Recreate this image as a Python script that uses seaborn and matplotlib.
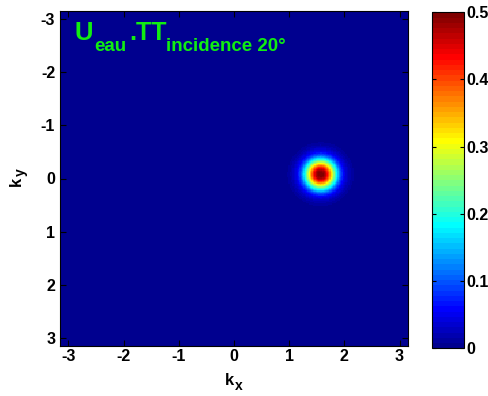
import numpy as np
import matplotlib
matplotlib.use("Agg")
import matplotlib.pyplot as plt
from matplotlib.colors import ListedColormap
import seaborn as sns

# ---- data ----
grid_n = 256
k_min, k_max = -np.pi, np.pi
x_ticks = [-3, -2, -1, 0, 1, 2, 3]
x_tick_labels = ["-3", "-2", "-1", "0", "1", "2", "3"]
y_ticks = [-3, -2, -1, 0, 1, 2, 3]
y_tick_labels = ["-3", "-2", "-1", "0", "1", "2", "3"]
cbar_ticks = [0, 0.1, 0.2, 0.3, 0.4, 0.5]
cbar_tick_labels = ["0", "0.1", "0.2", "0.3", "0.4", "0.5"]
v_min, v_max = 0.0, 0.5

# blob: centre and radial profile (radius in k units -> value)
blob_kx = 1.57
blob_ky = -0.08
profile_r = [0.0, 0.09, 0.145, 0.20, 0.27, 0.36, 0.43, 0.52, 0.65]
profile_v = [0.52, 0.47, 0.40, 0.315, 0.21, 0.10, 0.05, 0.02, 0.0]

title_main_1 = "U"
title_sub_1 = "eau"
title_main_2 = ".TT"
title_sub_2 = "incidence 20\u00b0"
x_label_main, x_label_sub = "k", "x"
y_label_main, y_label_sub = "k", "y"

# ---- MATLAB-like jet(64) colormap ----
def matlab_jet(n=64):
    m = n // 4
    u = np.concatenate([np.arange(1, m + 1) / m, np.ones(m - 1), np.arange(m, 0, -1) / m])
    g = int(np.ceil(m / 2)) - (1 if n % 4 == 1 else 0) + np.arange(1, len(u) + 1)
    r = g + m
    b = g - m
    g = g[g <= n]
    r = r[r <= n]
    b = b[b >= 1]
    J = np.zeros((n, 3))
    J[r - 1, 0] = u[:len(r)]
    J[g - 1, 1] = u[:len(g)]
    J[b - 1, 2] = u[-len(b):]
    return ListedColormap(J)

cmap = matlab_jet(64)

# ---- field ----
kx = np.linspace(k_min, k_max, grid_n)
ky = np.linspace(k_min, k_max, grid_n)
KX, KY = np.meshgrid(kx, ky)
R = np.sqrt((KX - blob_kx) ** 2 + (KY - blob_ky) ** 2)
field = np.interp(R, profile_r, profile_v)

# ---- figure ----
plt.rcParams["font.family"] = ["Liberation Sans", "DejaVu Sans"]
plt.rcParams["font.weight"] = "bold"

fig = plt.figure(figsize=(4.89, 3.96), dpi=100)
ax = fig.add_axes([60 / 489, 50 / 396, 348 / 489, 335 / 396])
cax = fig.add_axes([432 / 489, 47.7 / 396, 32 / 489, 336 / 396])

sns.heatmap(field, cmap=cmap, vmin=v_min, vmax=v_max, ax=ax, cbar_ax=cax,
            xticklabels=False, yticklabels=False)

for s in ax.spines.values():
    s.set_visible(True)
    s.set_color("black")
    s.set_linewidth(0.8)

idx = np.arange(grid_n) + 0.5
ax.set_xticks(np.interp(x_ticks, kx, idx))
ax.set_xticklabels(x_tick_labels, fontsize=11.5, fontweight="bold")
ax.set_yticks(np.interp(y_ticks, ky, idx))
ax.set_yticklabels(y_tick_labels, fontsize=11.5, fontweight="bold", rotation=0)
ax.tick_params(axis="x", direction="in", top=True, bottom=True, length=4, width=0.8, pad=2)
ax.tick_params(axis="y", direction="in", left=True, right=True, length=4, width=0.8, pad=3.5)

# axis labels: k with a lowered subscript, as in the original
kx_main = ax.text(0.5, -0.115, x_label_main, transform=ax.transAxes, fontsize=12,
                  fontweight="bold", ha="right", va="baseline")
ax.annotate(x_label_sub, xy=(1, 0), xycoords=kx_main, xytext=(1, -5),
            textcoords="offset pixels", fontsize=10, fontweight="bold",
            ha="left", va="bottom")

ky_anchor = (-0.112, 0.504)
ax.text(ky_anchor[0], ky_anchor[1], y_label_main, transform=ax.transAxes, fontsize=12,
        fontweight="bold", ha="right", va="baseline", rotation=90,
        rotation_mode="anchor")
ax.annotate(y_label_sub, xy=ky_anchor, xycoords="axes fraction", xytext=(4, 1),
            textcoords="offset pixels", fontsize=10, fontweight="bold",
            ha="left", va="baseline", rotation=90, rotation_mode="anchor")

cb = ax.collections[0].colorbar
cb.outline.set_visible(True)
cb.outline.set_linewidth(0.8)
cb.outline.set_edgecolor("black")
cb.set_ticks(cbar_ticks)
cb.set_ticklabels(cbar_tick_labels)
cax.tick_params(direction="in", left=True, right=True, length=3, width=0.8, pad=1.7,
                labelsize=11.5)
for lab in cax.get_yticklabels():
    lab.set_fontweight("bold")

green = "#11ee11"
t1 = ax.text(0.043, 0.912, title_main_1, transform=ax.transAxes, fontsize=18.5,
             fontweight="bold", color=green, va="baseline", ha="left")
t2 = ax.annotate(title_sub_1, xy=(1, 0), xycoords=t1, xytext=(1, -10),
                 textcoords="offset pixels", fontsize=13.5, fontweight="bold",
                 color=green, va="bottom", ha="left")
t3 = ax.annotate(title_main_2, xy=(1, 0), xycoords=t2, xytext=(3, 10),
                 textcoords="offset pixels", fontsize=18, fontweight="bold",
                 color=green, va="bottom", ha="left")
t4 = ax.annotate(title_sub_2, xy=(1, 0), xycoords=t3, xytext=(-1, -10),
                 textcoords="offset pixels", fontsize=13.5, fontweight="bold",
                 color=green, va="bottom", ha="left")

fig.savefig("out.png", dpi=100, facecolor="white")
